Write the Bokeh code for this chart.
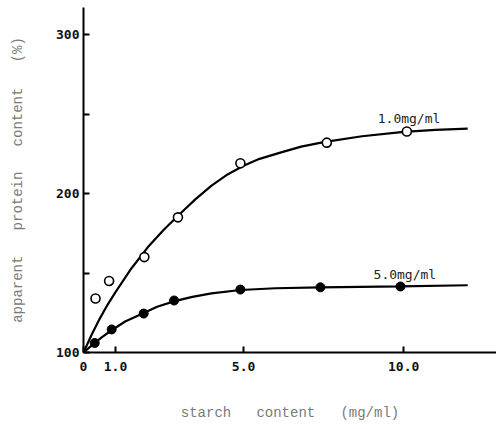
from bokeh.plotting import figure
from bokeh.models import Range1d, FixedTicker
from bokeh.core.properties import value
from bokeh.embed import file_html
from bokeh.resources import INLINE

# data
open_x = [0.375, 0.8, 1.9, 2.95, 4.9, 7.6, 10.1]
open_y = [134, 145, 160, 185, 219, 232, 239]
filled_x = [0.35, 0.88, 1.88, 2.83, 4.9, 7.4, 9.9]
filled_y = [106, 114.5, 124.5, 132.7, 139.6, 141, 141.5]

open_curve_x = [0, 0.25, 0.5, 0.75, 1.0, 1.5, 2.0, 2.5, 3.0, 3.5, 4.0, 4.5, 5.0,
                5.5, 6.2, 6.8, 7.5, 8.7, 10.0, 11.0, 12.0]
open_curve_y = [100, 111, 121, 130, 138, 153, 166, 177, 187, 196.5, 205, 212, 217.5,
                221.8, 226, 229.5, 232.3, 236, 238.8, 240, 240.8]
filled_curve_x = [0, 0.35, 0.6, 0.88, 1.3, 1.85, 2.3, 2.85, 3.4, 4.0, 4.9, 6.0,
                  7.4, 9.9, 12.0]
filled_curve_y = [100, 106, 110, 114, 119.5, 124.5, 128.8, 132.3, 135, 137.2, 139.3,
                  140.4, 141, 141.6, 142.3]

x_ticks = [0, 1, 5, 10]
x_tick_labels = ["0", "1.0", "5.0", "10.0"]
y_ticks = [100, 150, 200, 250, 300]
y_tick_labels = ["100", "", "200", "", "300"]

series_labels = ["1.0mg/ml", "5.0mg/ml"]

NB = "\u00a0"
x_title = (NB * 3).join(["starch", "content", "(mg/ml)"])
y_title = (NB * 3).join(["apparent", "protein", "content", "(%)"])

p = figure(width=496, height=429, output_backend="svg", toolbar_location=None,
           x_range=Range1d(0, 12.9), y_range=Range1d(100, 317),
           min_border_left=83, min_border_right=0, min_border_top=7, min_border_bottom=77)
p.outline_line_color = None
p.grid.visible = False
p.background_fill_color = "white"
p.border_fill_color = "white"

for ax in (p.xaxis[0], p.yaxis[0]):
    ax.axis_line_width = 2
    ax.axis_line_color = "black"
    ax.major_tick_in = 6
    ax.major_tick_out = 0
    ax.major_tick_line_width = 2
    ax.minor_tick_line_color = None
    ax.major_label_text_font = "DejaVu Sans Mono"
    ax.major_label_text_font_style = "bold"
    ax.major_label_text_font_size = "13px"
    ax.major_label_text_color = "#111111"
    ax.axis_label_text_font = "Liberation Mono"
    ax.axis_label_text_font_style = "normal"
    ax.axis_label_text_font_size = "14px"
    ax.axis_label_text_color = "#7a7a7a"

p.xaxis.ticker = FixedTicker(ticks=x_ticks)
p.xaxis.major_label_overrides = {t: l for t, l in zip(x_ticks, x_tick_labels)}
p.yaxis.ticker = FixedTicker(ticks=y_ticks)
p.yaxis.major_label_overrides = {t: l for t, l in zip(y_ticks, y_tick_labels)}
p.xaxis.major_label_standoff = 9
p.yaxis.major_label_standoff = 4
p.xaxis.axis_label = x_title
p.yaxis.axis_label = y_title
p.xaxis.axis_label_standoff = 31
p.yaxis.axis_label_standoff = 27

p.line(open_curve_x, open_curve_y, line_color="black", line_width=2.2)
p.line(filled_curve_x, filled_curve_y, line_color="black", line_width=2.2)
p.scatter(open_x, open_y, marker="circle", size=9, fill_color="white",
          line_color="black", line_width=1.6)
p.scatter(filled_x, filled_y, marker="circle", size=9, fill_color="black",
          line_color="black")

p.text(x=[9.19, 9.06], y=[247, 149], text=series_labels,
       text_font=value("DejaVu Sans Mono"), text_font_size="13px",
       text_color="#222222", text_baseline="middle", text_align="left")

open("out.html", "w").write(file_html(p, INLINE))
